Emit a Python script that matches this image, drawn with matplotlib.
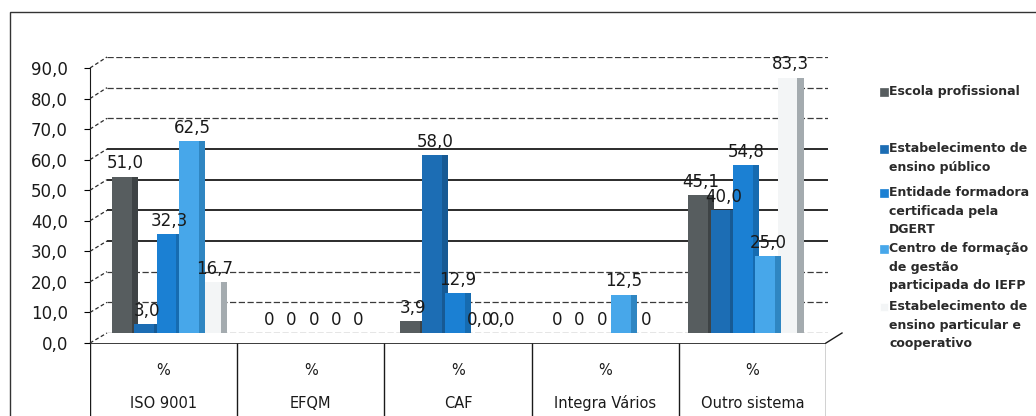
import numpy as np
import matplotlib
matplotlib.use("Agg")
import matplotlib.pyplot as plt
from matplotlib.lines import Line2D
from matplotlib.patches import Rectangle

categories = ["ISO 9001", "EFQM", "CAF", "Integra Vários", "Outro sistema"]
series = [
    "Escola profissional",
    "Estabelecimento de\nensino público",
    "Entidade formadora\ncertificada pela\nDGERT",
    "Centro de formação\nde gestão\nparticipada do IEFP",
    "Estabelecimento de\nensino particular e\ncooperativo",
]
escola = [51.0, 0.0, 3.9, 0.0, 45.1]
publico = [3.0, 0.0, 58.0, 0.0, 40.0]
dgert = [32.3, 0.0, 12.9, 0.0, 54.8]
centro = [62.5, 0.0, 0.0, 12.5, 25.0]
particular = [16.7, 0.0, 0.0, 0.0, 83.3]
yticks = [0, 10, 20, 30, 40, 50, 60, 70, 80, 90]

W, H = 1036, 416


def box(x0, y0, x1, y1):
    # pixel box (origin top-left) -> figure fraction rect
    return [x0 / W, 1 - y1 / H, (x1 - x0) / W, (y1 - y0) / H]


def fmt(v):
    return ("%.1f" % v).replace(".", ",")


fig = plt.figure(figsize=(W / 100, H / 100), dpi=100)
fig.patch.set_facecolor("white")

# back wall: gridlines and bars
ax = fig.add_axes(box(107, 57, 828, 333))
ax.set_xlim(-0.435, 4.57)
ax.set_ylim(0, 90)
ax.axis("off")
for v in yticks:
    if 30 <= v <= 60:
        ax.axhline(v, color="#1a1a1a", lw=1.3, zorder=1)
    else:
        ax.axhline(v, color="#3a3a3a", lw=0.9, ls=(0, (5, 2)), zorder=1)

values = [escola, publico, dgert, centro, particular]
faces = ["#575d5f", "#1c6db4", "#1b80d3", "#47a7ea", "#f3f5f6"]
sides = ["#3e4345", "#175a94", "#166bb0", "#2f86c2", "#a4abaf"]
step = 0.155
bw = 0.18
x = np.arange(len(categories))

for i, (vals, fc, sc) in enumerate(zip(values, faces, sides)):
    pos = x + (i - 2) * step
    z = 2 if i == 4 else 3 + i
    ax.bar(pos, vals, bw, color=fc, zorder=z)
    # darker strip on the right gives the columns some depth
    ax.bar(pos + bw * 0.38, vals, bw * 0.24, color=sc, zorder=z)
    for k, (p, v) in enumerate(zip(pos, vals)):
        txt = "0" if (v == 0 and categories[k] in ("EFQM", "Integra Vários")) else fmt(v)
        ax.annotate(txt, (p, v), xytext=(0, 3), textcoords="offset points",
                    ha="center", va="bottom", fontsize=12, color="#1a1a1a",
                    zorder=10, annotation_clip=False)

# front value axis
axf = fig.add_axes(box(90, 68, 91, 343))
axf.set_ylim(0, 90)
axf.set_yticks(yticks)
axf.set_yticklabels([fmt(v) for v in yticks], fontsize=12, color="#1a1a1a")
axf.tick_params(axis="y", length=4, pad=12)
axf.set_xticks([])
for s in ["top", "right", "bottom"]:
    axf.spines[s].set_visible(False)
axf.spines["left"].set_color("#1a1a1a")
axf.patch.set_visible(False)

# slanted ticks joining front axis to the back wall
for v in yticks:
    yf = 343 - v * 275 / 90
    yb = 333 - v * 276 / 90
    fig.add_artist(Line2D([90 / W, 107 / W], [1 - yf / H, 1 - yb / H],
                          transform=fig.transFigure, ls=(0, (3, 2)),
                          lw=0.9, color="#2a2a2a"))

# floor edge on the right
fig.add_artist(Line2D([826 / W, 842 / W], [1 - 343 / H, 1 - 333 / H],
                      transform=fig.transFigure, lw=1.0, color="#1a1a1a"))

# category table under the plot
axt = fig.add_axes(box(90, 343, 826, 418))
axt.set_xlim(0, 5)
axt.set_ylim(1, 0)
axt.axis("off")
axt.axhline(0, color="#1a1a1a", lw=1.2)
axt.vlines(np.arange(6), 0, 1, color="#1a1a1a", lw=1.0)
for k, name in enumerate(categories):
    axt.text(k + 0.5, 0.37, "%", ha="center", va="center", fontsize=10.5, color="#1a1a1a")
    axt.text(k + 0.5, 0.80, name, ha="center", va="center", fontsize=10.5, color="#1a1a1a")

# legend
legend_y = [92, 149, 193, 249, 307]
for y, lab, fc, sc in zip(legend_y, series, faces, sides):
    fig.add_artist(Rectangle((880 / W, 1 - (y + 4) / H), 8 / W, 8 / H,
                             facecolor=fc, edgecolor=fc if fc != "#f3f5f6" else "white",
                             lw=0.5, transform=fig.transFigure))
    fig.text(889 / W, 1 - (y - 7) / H, lab, ha="left", va="top", fontsize=9,
             fontweight="bold", color="#2a2a2a", linespacing=1.55)

# chart area border
fig.add_artist(Rectangle((10 / W, -0.05), 1.0, 1 - 12 / H + 0.05, fill=False,
                         lw=1.0, edgecolor="#333333", transform=fig.transFigure))

fig.savefig("out.png", dpi=100)
